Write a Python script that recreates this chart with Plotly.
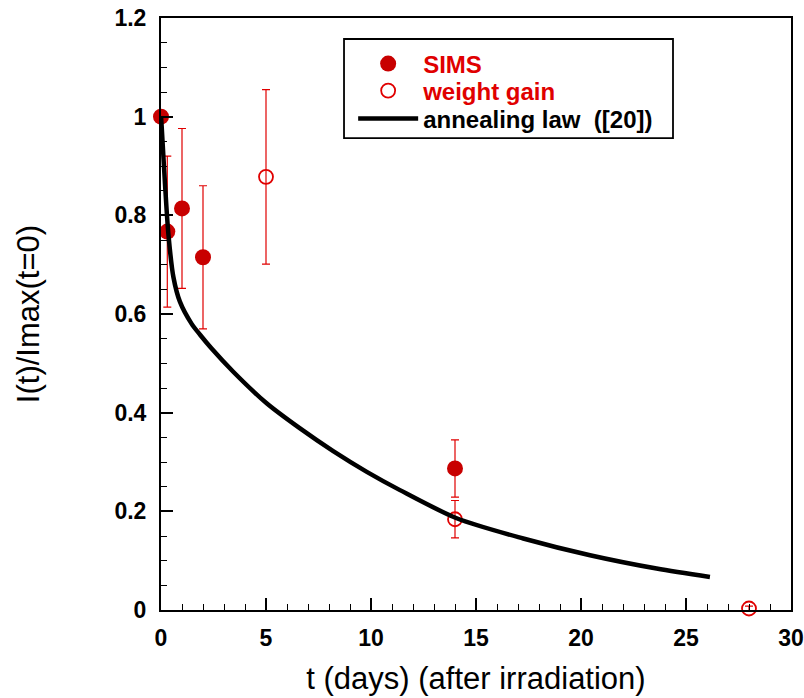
import plotly.graph_objects as go

# SIMS data (filled circles)
sims_t = [0, 0.3, 1, 2, 14]
sims_val = [1.0, 0.767, 0.814, 0.715, 0.287]
sims_err = [0, 0.153, 0.162, 0.145, 0.058]

# weight gain data (open circles)
wg_t = [5, 14, 28]
wg_val = [0.878, 0.184, 0.003]
wg_err = [0.177, 0.038, 0.005]

# annealing law curve ([20])
law_t = [0, 0.03, 0.19, 0.35, 0.59, 0.9, 1.46, 1.86, 2.41, 3.44, 5.03, 6.62,
         8.2, 9.8, 11.38, 14.08, 17.25, 20.43, 23.6, 26.14]
law_val = [1.0, 0.982, 0.864, 0.763, 0.675, 0.625, 0.580, 0.558, 0.530, 0.483,
           0.419, 0.368, 0.322, 0.280, 0.243, 0.186, 0.145, 0.111, 0.084, 0.067]

x_ticks = [0, 5, 10, 15, 20, 25, 30]
y_ticks = [0, 0.2, 0.4, 0.6, 0.8, 1, 1.2]
y_ticktext = ["0", "0.2", "0.4", "0.6", "0.8", "1", "1.2"]

RED = "#E00000"
DARKRED = "#C80000"
FONT = "Liberation Sans, Arial, sans-serif"
LEGFONT = dict(family=FONT, size=24, color="black", weight="bold")

fig = go.Figure()

fig.add_trace(go.Scatter(
    x=sims_t, y=sims_val, mode="markers", cliponaxis=False,
    name="<span style='color:#E00000'>SIMS</span>", legend="legend",
    marker=dict(symbol="circle", size=16, color=DARKRED, line=dict(width=0)),
    error_y=dict(type="data", array=sims_err, visible=True, color=RED,
                 thickness=1.2, width=4),
))
fig.add_trace(go.Scatter(
    x=wg_t, y=wg_val, mode="markers", cliponaxis=False,
    name="<span style='color:#E00000'>weight gain</span>", legend="legend2",
    marker=dict(symbol="circle-open", size=14, color=RED, line=dict(width=1.8, color=RED)),
    error_y=dict(type="data", array=wg_err, visible=True, color=RED,
                 thickness=1.2, width=4),
))
fig.add_trace(go.Scatter(
    x=law_t, y=law_val, mode="lines",
    name="annealing law  ([20])", legend="legend3",
    line=dict(color="black", width=4.5, shape="spline", smoothing=0.8),
))

tickfont = dict(family=FONT, size=23, color="black", weight="bold")

fig.update_layout(
    xaxis=dict(
        range=[0, 30], tickvals=x_ticks, ticktext=[str(v) for v in x_ticks],
        showline=True, linecolor="black", linewidth=2, mirror=True,
        ticks="inside", ticklen=12, tickwidth=1.5, tickcolor="black",
        showgrid=False, zeroline=False, tickfont=tickfont,
        ticklabelstandoff=6, ticklabeloverflow="allow",
        minor=dict(ticks="inside", ticklen=6, tickwidth=1.2, tickcolor="black", dtick=1, tick0=0, showgrid=False),
        title=dict(text="t (days) (after irradiation)", font=dict(family=FONT, size=31, color="black"), standoff=18),
    ),
    yaxis=dict(
        range=[0, 1.2], tickvals=y_ticks, ticktext=y_ticktext,
        showline=True, linecolor="black", linewidth=2, mirror=True,
        ticks="inside", ticklen=12, tickwidth=1.5, tickcolor="black",
        showgrid=False, zeroline=False, tickfont=tickfont,
        ticklabelstandoff=8, ticklabeloverflow="allow",
        minor=dict(ticks="inside", ticklen=6, tickwidth=1.2, tickcolor="black", dtick=0.05, tick0=0, showgrid=False),
        title=dict(text="I(t)/Imax(t=0)", font=dict(family=FONT, size=31, color="black"), standoff=66),
    ),
    xaxis2=dict(
        range=[0, 30], overlaying="x", side="top", anchor="y",
        tickvals=x_ticks, showticklabels=False, showline=False,
        ticks="inside", ticklen=12, tickwidth=1.5, tickcolor="black",
        showgrid=False, zeroline=False,
        minor=dict(ticks="inside", ticklen=6, tickwidth=1.2, tickcolor="black", dtick=1, tick0=0, showgrid=False),
    ),
    yaxis2=dict(
        range=[0, 1.2], overlaying="y", side="right", anchor="x",
        tickvals=y_ticks, showticklabels=False, showline=False,
        ticks="inside", ticklen=12, tickwidth=1.5, tickcolor="black",
        showgrid=False, zeroline=False,
        minor=dict(ticks="inside", ticklen=6, tickwidth=1.2, tickcolor="black", dtick=0.05, tick0=0, showgrid=False),
    ),
    width=804, height=698,
    margin=dict(l=161, r=13, t=18, b=88, autoexpand=False),
    paper_bgcolor="white", plot_bgcolor="white",
    showlegend=True,
    legend=dict(x=0.305, y=0.9223, xanchor="left", yanchor="middle",
                bgcolor="rgba(0,0,0,0)", borderwidth=0, font=LEGFONT,
                itemsizing="trace", itemwidth=60),
    legend2=dict(x=0.305, y=0.8767, xanchor="left", yanchor="middle",
                 bgcolor="rgba(0,0,0,0)", borderwidth=0, font=LEGFONT,
                 itemsizing="trace", itemwidth=60),
    legend3=dict(x=0.305, y=0.8294, xanchor="left", yanchor="middle",
                 bgcolor="rgba(0,0,0,0)", borderwidth=0, font=LEGFONT,
                 itemsizing="trace", itemwidth=60),
    shapes=[dict(type="rect", xref="paper", yref="paper",
                 x0=0.2905, x1=0.8127, y0=0.797, y1=0.9645,
                 line=dict(color="black", width=1.8), fillcolor="rgba(0,0,0,0)",
                 layer="above")],
)

fig.write_html("out.html", config={"displayModeBar": False},
               post_script="document.body.style.margin='0';")
